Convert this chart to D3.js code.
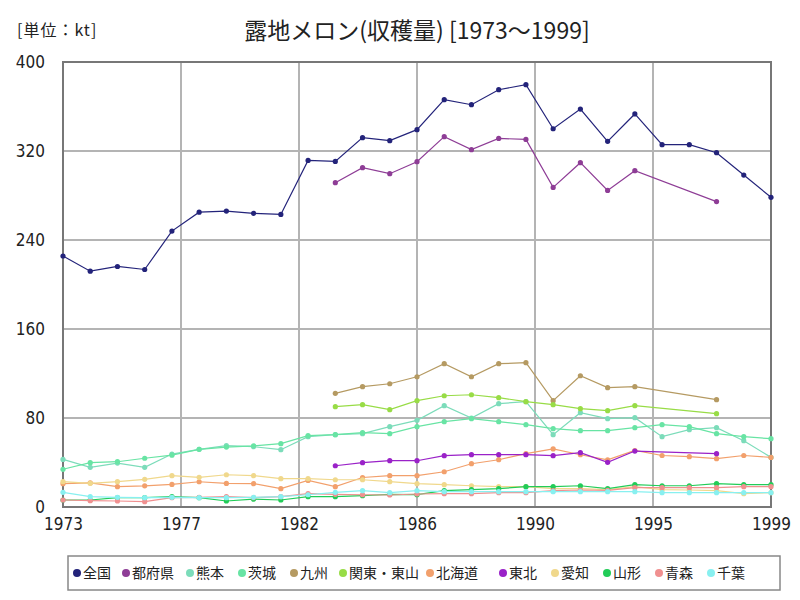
<!DOCTYPE html>
<html><head><meta charset="utf-8">
<script src="https://cdn.jsdelivr.net/npm/d3@7"></script>
<style>
body{margin:0;background:#fff;}
text{font-family:"Noto Sans CJK JP","Noto Sans",sans-serif;}
.num{font-family:"Liberation Sans Narrow","DejaVu Sans Condensed","Liberation Sans",sans-serif;}
</style></head>
<body><svg id="c" width="800" height="600"></svg>
<script>
const years = d3.range(1973, 2000);
const seriesNames = ["全国","都府県","熊本","茨城","九州","関東・東山","北海道","東北","愛知","山形","青森","千葉"];
const seriesColors = ["#23237a","#8e3d96","#7cdcba","#68e4a4","#b59a62","#98dc46","#f2a06c","#9a22c8","#f0d88c","#22cc58","#f09090","#88f0f0"];
const N = null;
const zenkoku = [225.6,212,216.2,213.5,248,265,266,264,263,311.5,310.6,332,329.3,339.2,366.1,361.6,375.1,379.6,340,357.7,328.7,353.3,325.7,325.7,318.5,298.4,278.4];
const tofuken = [N,N,N,N,N,N,N,N,N,N,291.5,305,299.6,310.4,332.9,321.2,331.3,330.4,287.3,309.5,284.6,302.3,N,N,274.5,N,N];
const kumamoto = [42.8,35.7,39.5,35.7,47.6,51.8,55.1,54.2,51.5,63.2,65,65.9,72.2,77.9,91.1,80,92.9,94.7,65,84.8,79.4,80.3,63.2,69.5,71.3,59.6,44.6];
const ibaraki = [33.9,39.8,40.7,43.8,46.6,51.8,53.9,55,56.9,64.1,65,66.8,65.9,72.2,76.7,79.4,76.7,74,70.4,68.6,68.6,71.3,74,72.2,65.9,63.2,61.4];
const kyushu = [N,N,N,N,N,N,N,N,N,N,102.2,108.2,110.8,117.1,128.8,117.1,128.8,129.7,95.6,118,107.3,108.2,N,N,96.5,N,N];
const kanto = [N,N,N,N,N,N,N,N,N,N,90.2,92,87.5,95.6,100,100.9,98.3,94.7,92,88.4,86.6,91.1,N,N,83.9,N,N];
const hokkaido = [21,21.6,18.3,19,20.3,22.7,21.2,21,16.5,23.9,18.3,26.5,28.2,28.2,31.7,38.9,42.5,47.9,52.2,47,42.3,50.8,46.3,45.2,43.4,46.3,44.6];
const tohoku = [N,N,N,N,N,N,N,N,N,N,37.1,39.8,41.6,41.6,46.1,47,47,47,46.1,48.8,40.2,50.3,N,N,47.9,N,N];
const aichi = [22.8,21.3,22.8,24.9,28.2,26.7,29,28.2,25.5,25.5,24.5,24.5,22.8,21,20.1,19.1,18.3,18.3,16.5,16.5,15.6,18.3,15.6,15.3,14.7,12,12.9];
const yamagata = [6.3,6.3,8.4,8.4,9.3,8.4,5.4,7,6.3,9.3,9.3,10.2,11.4,11.1,14.7,15.6,16.5,18.3,18.3,19.1,16.5,20.1,19.1,19.1,21,20.1,20.1];
const aomori = [6.3,5.7,5.4,4.8,8.4,8.7,9.3,8.4,9.3,12,11.4,11,10.8,11.7,12,12,12.9,12.9,14.7,15.3,15,17.4,17.4,17.4,17.4,18.3,18.3];
const chiba = [13.2,9.3,8.7,8.4,8.7,8.4,8.4,8.7,9.3,11,13.2,14.7,12.9,14.7,13.8,13.8,13.8,13.8,13.8,13.8,13.8,13.8,12.9,12.9,12.9,12.9,12.9];
const seriesValues = [zenkoku,tofuken,kumamoto,ibaraki,kyushu,kanto,hokkaido,tohoku,aichi,yamagata,aomori,chiba];
const yTicks = [0,80,160,240,320,400];
const xTickLabels = ["1973","1977","1982","1986","1990","1995","1999"];
const titleText = "露地メロン(収穫量) [1973～1999]";
const unitText = "[単位：kt]";

const svg = d3.select("#c");
const L = 63, R = 771, T = 62, B = 507;
const x = d3.scaleLinear().domain([1973,1999]).range([L,R]);
const y = d3.scaleLinear().domain([0,400]).range([B,T]);

// grid
const xTickVals = d3.range(7).map(i => 1973 + i*26/6);
const g = svg.append("g");
g.selectAll(".vg").data(xTickVals.slice(1,-1)).enter().append("line")
  .attr("x1",d=>x(d)).attr("x2",d=>x(d)).attr("y1",T).attr("y2",B)
  .attr("stroke","#b4b4b4").attr("stroke-width",2);
g.selectAll(".hg").data(yTicks.slice(1,-1)).enter().append("line")
  .attr("x1",L).attr("x2",R).attr("y1",d=>y(d)).attr("y2",d=>y(d))
  .attr("stroke","#b4b4b4").attr("stroke-width",2);
g.append("rect").attr("x",L).attr("y",T).attr("width",R-L).attr("height",B-T)
  .attr("fill","none").attr("stroke","#777").attr("stroke-width",2);

// axes labels
const yAxis = d3.axisLeft(y).tickValues(yTicks).tickSize(0).tickPadding(18);
const ya = svg.append("g").attr("transform",`translate(${L},0)`).call(yAxis);
ya.select(".domain").remove();
ya.selectAll("text").attr("class","num").attr("font-size",17).attr("fill","#222");
const xAxis = d3.axisBottom(x).tickValues(xTickVals).tickSize(0).tickPadding(11)
  .tickFormat((d,i)=>xTickLabels[i]);
const xa = svg.append("g").attr("transform",`translate(0,${B})`).call(xAxis);
xa.select(".domain").remove();
xa.selectAll("text").attr("class","num").attr("font-size",17).attr("fill","#222");

// series
const line = d3.line().x(d=>x(d.year)).y(d=>y(d.v));
seriesValues.forEach((vals,i)=>{
  const pts = years.map((yr,j)=>({year:yr,v:vals[j]})).filter(d=>d.v!==null);
  svg.append("path").datum(pts).attr("d",line).attr("fill","none")
    .attr("stroke",seriesColors[i]).attr("stroke-width",1.2);
  svg.append("g").selectAll("circle").data(pts).enter().append("circle")
    .attr("cx",d=>x(d.year)).attr("cy",d=>y(d.v)).attr("r",2.6).attr("fill",seriesColors[i]);
});

// title
svg.append("text").attr("x",417).attr("y",39).attr("text-anchor","middle")
  .attr("font-size",23).attr("fill","#222").text(titleText);
svg.append("text").attr("x",17).attr("y",36)
  .attr("font-size",16).attr("letter-spacing",1).attr("fill","#222").text(unitText);

// legend
const legX = [73,122,186,238,290,339,426,499,551,603,655,707];
svg.append("rect").attr("x",68).attr("y",556).attr("width",712).attr("height",34)
  .attr("fill","#fff").attr("stroke","#888").attr("stroke-width",1.5);
seriesNames.forEach((n,i)=>{
  svg.append("circle").attr("cx",legX[i]+4).attr("cy",573).attr("r",4).attr("fill",seriesColors[i]);
  svg.append("text").attr("x",legX[i]+10).attr("y",578).attr("font-size",14).attr("fill","#222").text(n);
});
</script></body></html>
